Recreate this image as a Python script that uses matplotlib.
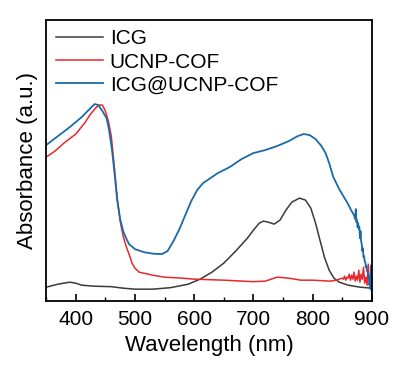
import matplotlib
matplotlib.use("Agg")
import matplotlib.pyplot as plt
from matplotlib.ticker import MultipleLocator

plt.rcParams['font.family'] = ['Liberation Sans', 'DejaVu Sans']

# ICG
icg_wl = [350, 370, 390, 400, 410, 430, 460, 480, 500, 530, 560, 590, 610, 630, 650,
          670, 690, 700, 710, 717, 725, 735, 745, 755, 765, 778, 788, 797, 805, 812,
          820, 828, 836, 845, 860, 880, 900]
icg_abs = [14, 17, 19, 18, 16, 15, 14.5, 13, 12, 12, 13.5, 17, 22, 29, 38,
           50, 63, 71, 78, 80, 79, 77, 81, 91, 99, 103, 101, 93, 78, 62,
           44, 31, 23, 19, 16, 14, 13]

# UCNP-COF
cof_wl = [350, 365, 380, 400, 415, 425, 435, 440, 445, 450, 455, 460, 465, 470, 475,
          480, 485, 490, 495, 500, 507, 530, 550, 580, 600, 650, 700, 720, 740, 760,
          780, 800, 830, 840, 845, 850, 852, 854, 856, 858, 860, 862, 864, 866, 868,
          870, 872, 874, 876, 878, 880, 882, 884, 886, 888, 890, 892, 894, 896, 898, 900]
cof_abs = [144, 150, 158, 167, 178, 187, 194, 196, 196, 190, 180, 165, 135, 103, 80,
           65, 55, 47, 38, 33, 29, 26, 24, 23, 22, 21, 19.5, 20, 24, 23,
           21, 21, 20, 21, 22, 23, 22, 25, 21, 24, 23, 27, 21, 26, 22,
           29, 20, 25, 21, 31, 19, 27, 22, 34, 18, 24, 16, 37, 17, 22, 15]

# ICG@UCNP-COF
mix_wl = [350, 370, 390, 410, 425, 432, 438, 445, 452, 456, 461, 466, 470, 475, 480,
          485, 490, 500, 515, 530, 545, 555, 565, 575, 585, 595, 605, 615, 625, 640,
          660, 680, 700, 720, 740, 760, 775, 785, 795, 805, 815, 822, 828, 835, 845,
          855, 860, 865, 870, 872, 873, 874, 875, 876, 877, 878, 879, 880, 881, 882,
          883, 884, 885, 886, 887, 888, 889, 890, 891, 892, 893, 894, 895, 896, 897,
          898, 899, 900]
mix_abs = [156, 165, 174, 184, 193, 197, 196, 190, 183, 172, 152, 125, 101, 82, 70,
           63, 57, 52, 49, 47.5, 47, 50, 60, 72, 86, 100, 111, 118, 122, 128,
           134, 142, 148, 151, 155, 160, 165, 167, 166, 162, 155, 148, 138, 124, 112,
           102, 97, 91, 86, 82, 92, 79, 81, 74, 78, 72, 74, 63, 70, 60,
           57, 50, 53, 44, 45, 40, 39, 34, 35, 30, 29, 24, 26, 16, 19,
           12, 36, 10]

fig = plt.figure(figsize=(4.05, 3.7), dpi=100)
ax = fig.add_axes([0.114, 0.186, 0.804, 0.760])

ax.plot(icg_wl, icg_abs, color='#3a3a3a', lw=1.1, label='ICG')
ax.plot(cof_wl, cof_abs, color='#e8282c', lw=1.1, label='UCNP-COF')
ax.plot(mix_wl, mix_abs, color='#1b6aa8', lw=1.3, label='ICG@UCNP-COF')

ax.set_xlim(350, 900)
ax.set_ylim(0, 281)
ax.xaxis.set_major_locator(MultipleLocator(100))
ax.xaxis.set_minor_locator(MultipleLocator(50))
ax.tick_params(axis='x', which='both', direction='in', top=False, labelsize=15, pad=6)
ax.tick_params(axis='x', which='major', length=5, width=1.2)
ax.tick_params(axis='x', which='minor', length=3, width=1.0)
ax.set_yticks([])
for s in ax.spines.values():
    s.set_linewidth(1.3)

ax.set_xlabel('Wavelength (nm)', fontsize=16, labelpad=5)
ax.set_ylabel('Absorbance (a.u.)', fontsize=16, labelpad=6)

ax.legend(loc='upper left', frameon=False, fontsize=15, handlelength=2.3,
          handletextpad=0.3, labelspacing=0.2, borderpad=0.1, borderaxespad=0.35)

fig.savefig('out.png', dpi=100)
